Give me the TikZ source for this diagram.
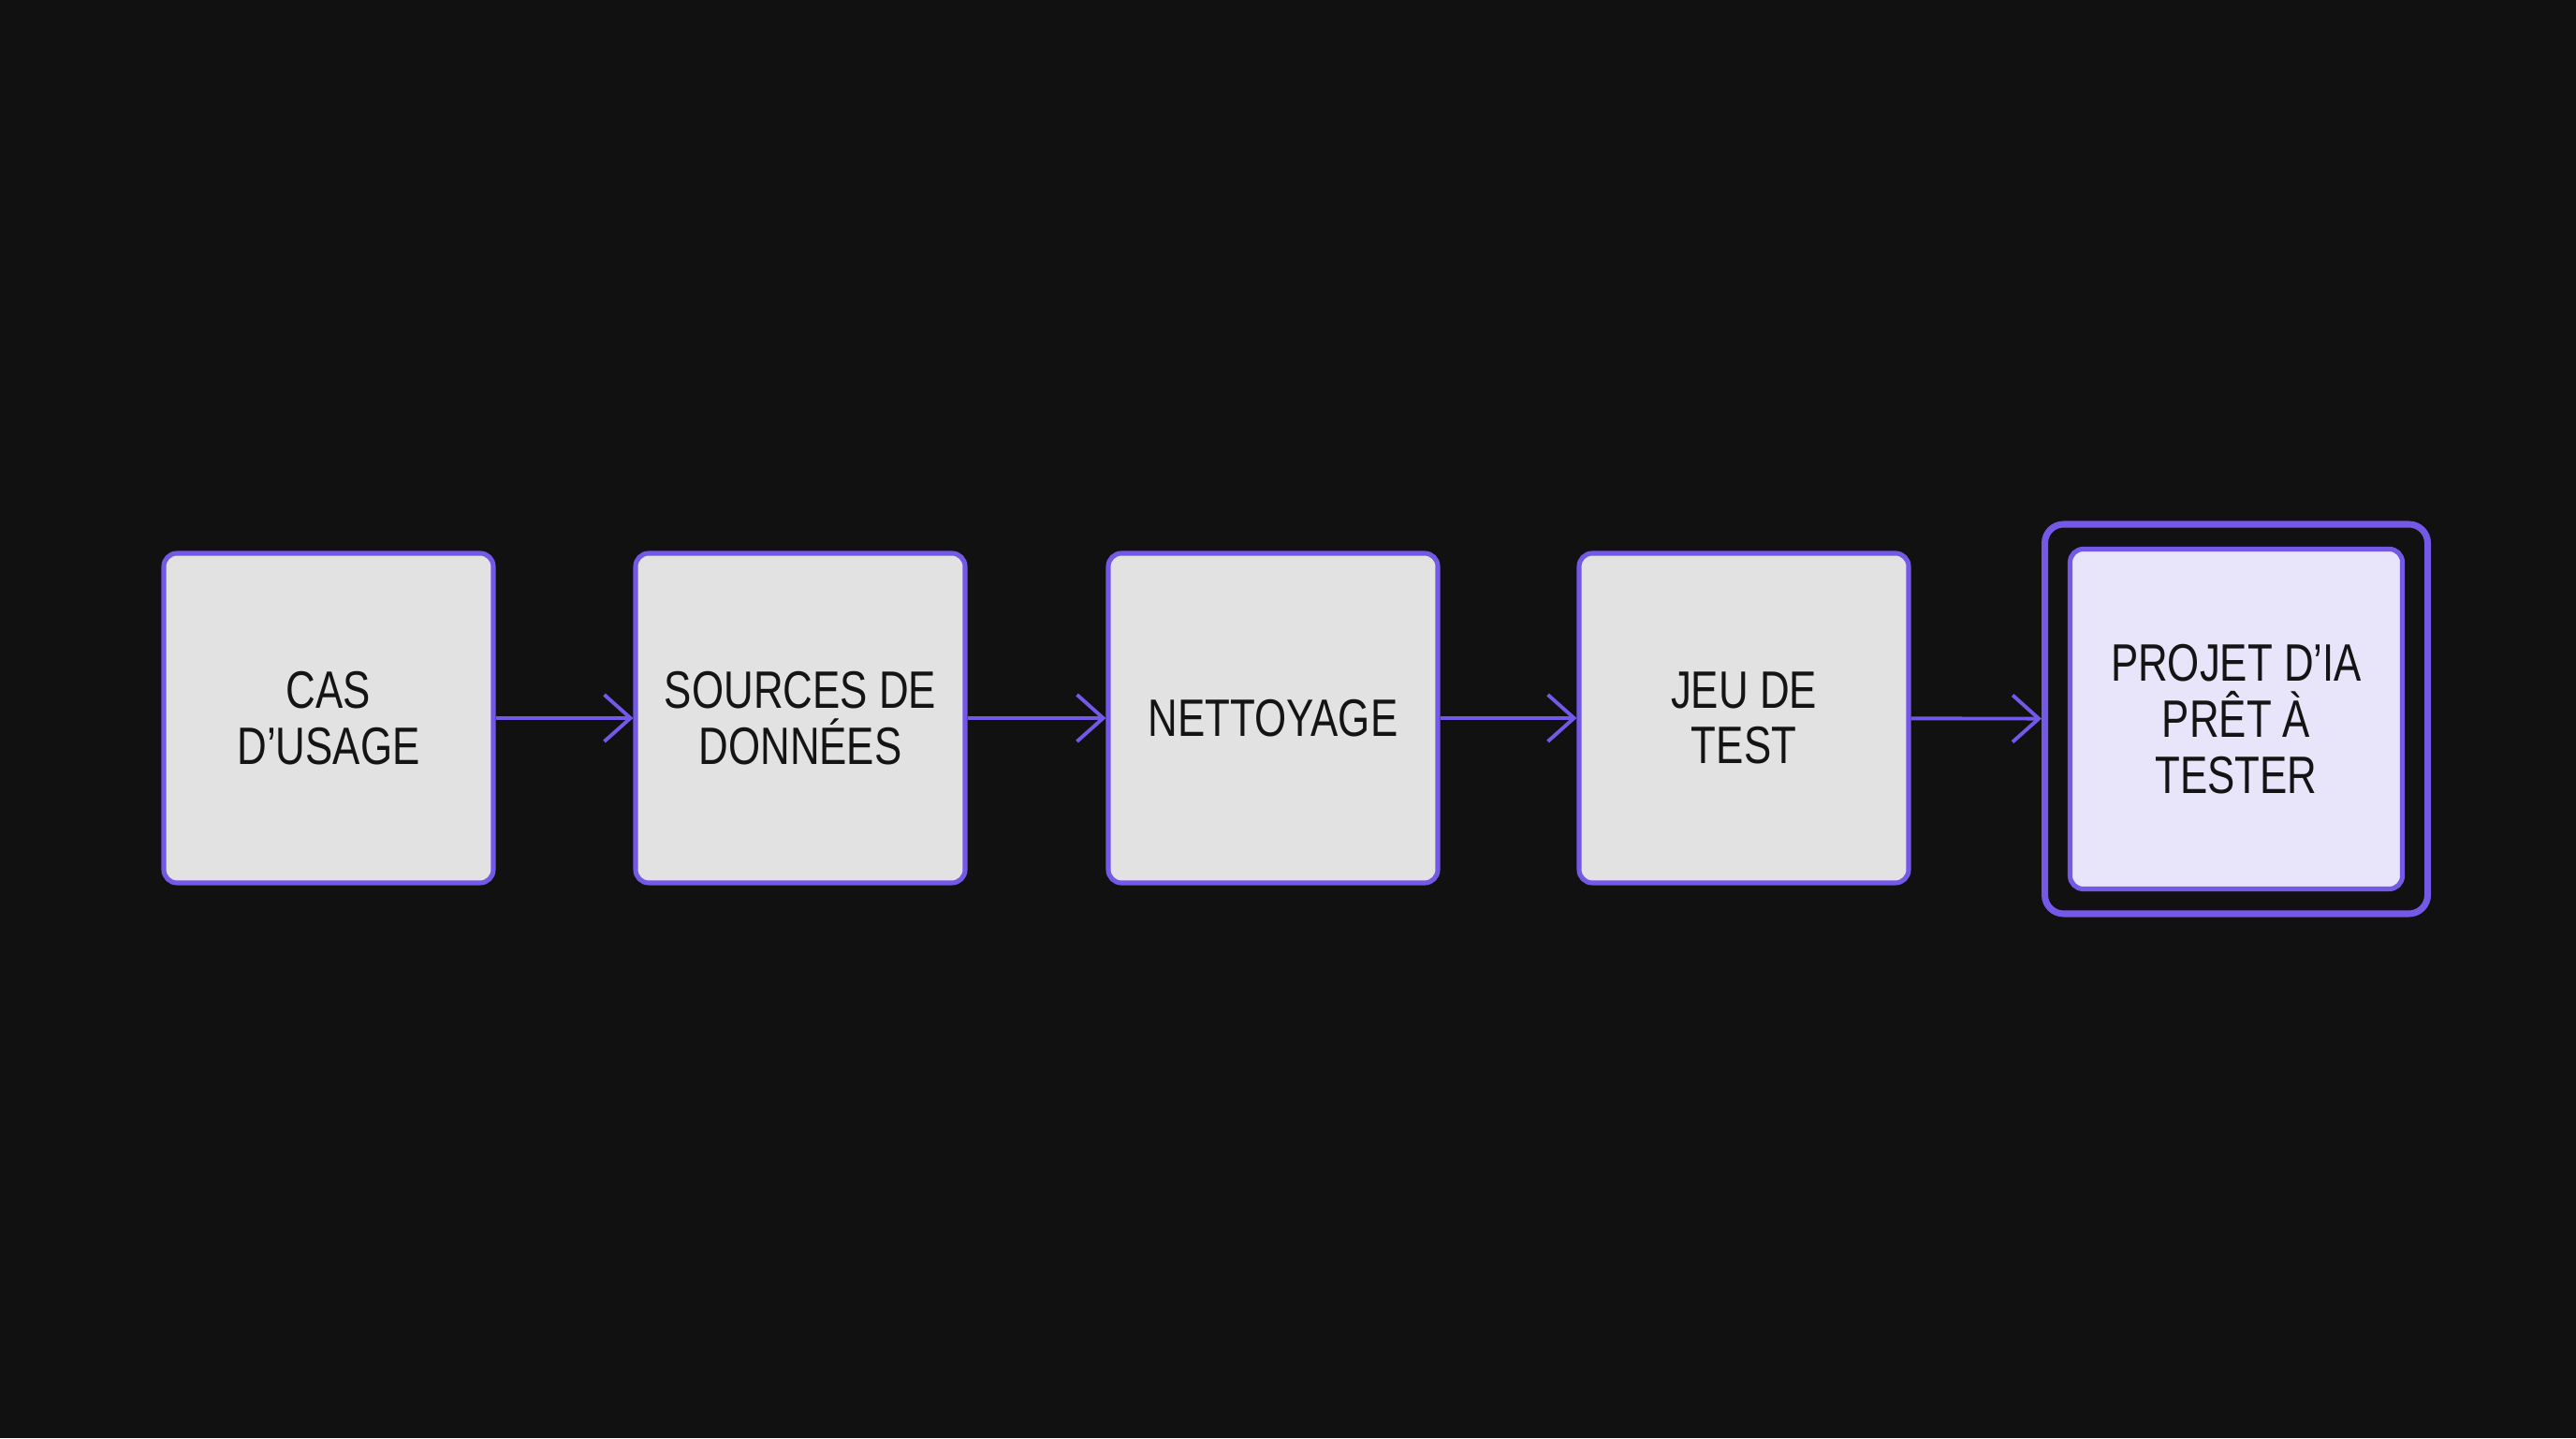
\documentclass[tikz,border=0pt]{standalone}
\usepackage{fontspec}
\setmainfont{Liberation Sans}[FakeStretch=0.78]
\usepackage{tikz}
\usetikzlibrary{positioning}
\usetikzlibrary{arrows.meta}

\definecolor{bgdark}{RGB}{17,17,17}
\definecolor{violet}{RGB}{116,88,230}
\definecolor{boxgray}{RGB}{226,226,226}
\definecolor{boxlilac}{RGB}{232,229,250}
\definecolor{inkdark}{RGB}{20,20,20}

\begin{document}
\begin{tikzpicture}[
  stage/.style={draw=violet, line width=1.45pt, fill=boxgray, rounded corners=0.14cm,
    minimum width=3.52cm, minimum height=3.52cm, inner sep=0pt,
    text=inkdark, align=center,
    font=\fontsize{16pt}{17pt}\selectfont},
  final/.style={stage, fill=boxlilac, minimum width=3.55cm, minimum height=3.63cm},
  frame/.style={draw=violet, line width=2pt, rounded corners=0.2cm,
    minimum width=4.09cm, minimum height=4.16cm, inner sep=0pt},
  flow/.style={draw=violet, line width=1.1pt,
    -{Straight Barb[length=0.28cm, width=0.5cm, line width=1.1pt]}}
]
\fill[bgdark] (0,0) rectangle (27.52,15.36);
\useasboundingbox (0,0) rectangle (27.52,15.36);

\node[stage] (cas) at (3.51,7.69) {CAS\\D’USAGE};
\node[stage] (sources) at (8.55,7.69) {SOURCES DE\\DONNÉES};
\node[stage] (nettoyage) at (13.60,7.69) {NETTOYAGE};
\node[stage] (jeu) at (18.63,7.69) {JEU DE\\TEST};

\node[frame] (cadre) at (23.89,7.68) {};
\node[final] (projet) at (23.89,7.68) {PROJET D’IA\\PRÊT À\\TESTER};

\draw[flow] (cas) -- (sources);
\draw[flow] (sources) -- (nettoyage);
\draw[flow] (nettoyage) -- (jeu);
\draw[flow] (jeu) -- (cadre);
\end{tikzpicture}
\end{document}
